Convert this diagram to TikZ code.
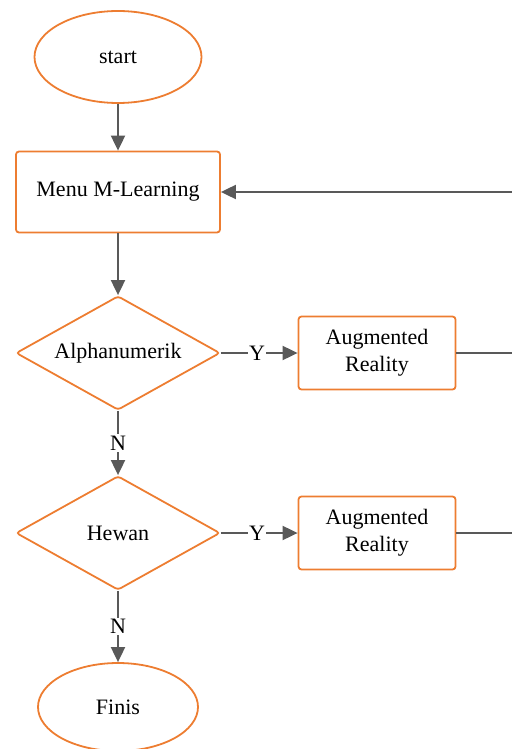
\documentclass[tikz,border=0pt]{standalone}
\usepackage{fontspec}
\setmainfont{Liberation Serif}
\usetikzlibrary{shapes.geometric,arrows.meta}
\definecolor{flowor}{RGB}{237,125,49}
\definecolor{flowgr}{RGB}{89,89,89}
\begin{document}
\begin{tikzpicture}[x=1pt,y=-1pt, font=\fontsize{22}{27}\selectfont,
    terminal/.style={ellipse, draw=flowor, line width=1.8pt, inner sep=0pt},
    process/.style={rectangle, draw=flowor, line width=1.8pt, rounded corners=3pt, align=center, inner sep=0pt},
    decision/.style={diamond, draw=flowor, line width=1.8pt, rounded corners=3pt, inner sep=0pt, aspect=1.79, minimum width=204pt, minimum height=114pt},
    flowline/.style={draw=flowgr, line width=1.9pt, -{Triangle[length=15pt,width=14pt]}},
    plainline/.style={draw=flowgr, line width=1.9pt},
    answer/.style={fill=white, inner sep=1.5pt}]
      \useasboundingbox (0,0) rectangle (511,749);

      \node[terminal, minimum width=167pt, minimum height=92pt] (start) at (118,57) {start};
      \node[process, minimum width=204pt, minimum height=81pt] (menu) at (118,192) {Menu M-Learning};
      \node[decision] (alpha) at (118,353) {Alphanumerik};
      \node[decision] (hewan) at (118,533) {Hewan};
      \node[terminal, minimum width=160pt, minimum height=88pt] (finis) at (118,707) {Finis};
      \foreach \k/\y in {1/353, 2/533}
        \node[process, minimum width=157pt, minimum height=73pt] (ar\k) at (377,\y) {Augmented\\Reality};
      \coordinate (loop) at (530,192);

      \draw[flowline] (start) -- (menu);
      \draw[flowline] (menu) -- (alpha);
      \draw[flowline] (alpha) -- node[answer] {N} (hewan);
      \draw[flowline] (hewan) -- node[answer] {N} (finis);
      \draw[flowline] (alpha) -- node[answer, pos=0.47] {Y} (ar1);
      \draw[flowline] (hewan) -- node[answer, pos=0.47] {Y} (ar2);
      \draw[plainline] (ar1.east) -- (ar1.east -| loop);
      \draw[flowline] (ar2.east) -| (loop) -- (menu.east);
    \end{tikzpicture}
\end{document}
